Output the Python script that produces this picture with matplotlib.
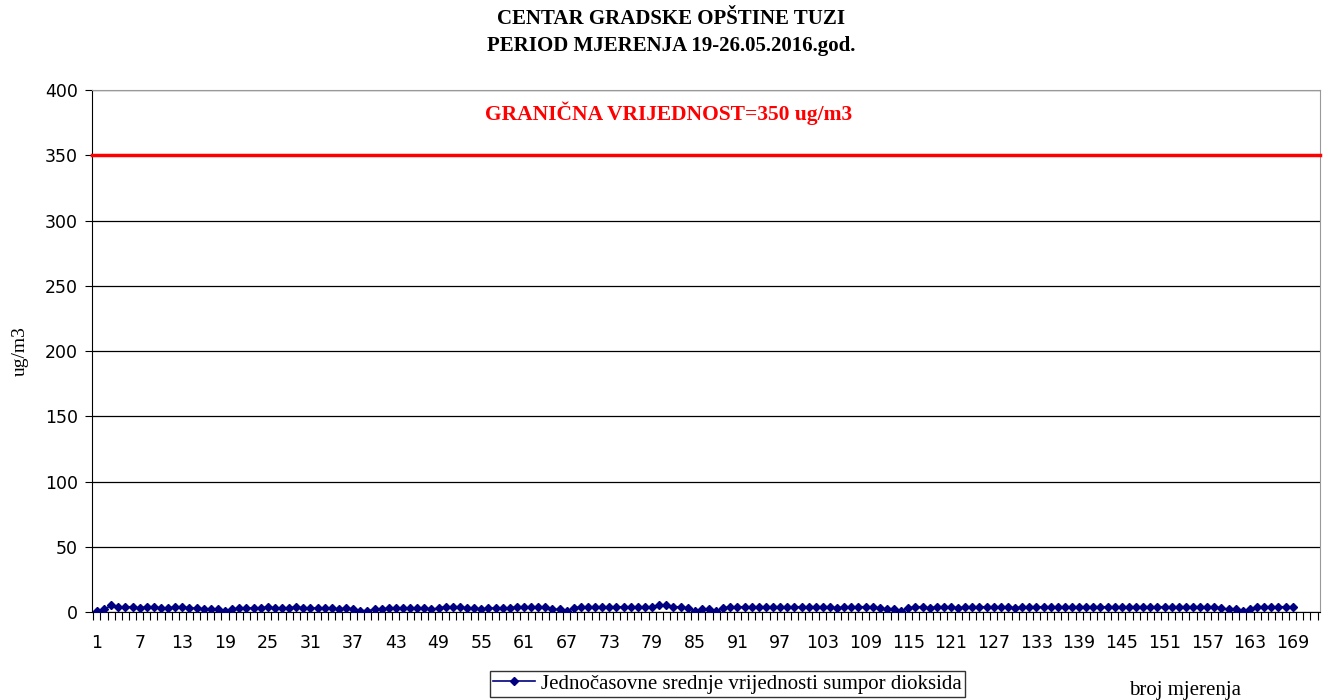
import matplotlib
matplotlib.use("Agg")
from matplotlib import pyplot as plt
import numpy as np

# hourly SO2 values, measurements 1..169
so2 = [1, 2, 5, 4, 4, 4, 3, 4, 4, 3, 3, 4, 4, 3, 3, 2, 2, 2, 1, 2,
       3, 3, 3, 3, 4, 3, 3, 3, 4, 3, 3, 3, 3, 3, 2, 3, 2, 1, 1, 2,
       2, 3, 3, 3, 3, 3, 3, 2, 3, 4, 4, 4, 3, 3, 2, 3, 3, 3, 3, 4,
       4, 4, 4, 4, 2, 2, 1, 3, 4, 4, 4, 4, 4, 4, 4, 4, 4, 4, 4, 5,
       5, 4, 4, 3, 1, 2, 2, 1, 3, 4, 4, 4, 4, 4, 4, 4, 4, 4, 4, 4,
       4, 4, 4, 4, 3, 4, 4, 4, 4, 4, 3, 2, 2, 1, 3, 4, 4, 3, 4, 4,
       4, 3, 4, 4, 4, 4, 4, 4, 4, 3, 4, 4, 4, 4, 4, 4, 4, 4, 4, 4,
       4, 4, 4, 4, 4, 4, 4, 4, 4, 4, 4, 4, 4, 4, 4, 4, 4, 4, 3, 2,
       2, 1, 2, 4, 4, 4, 4, 4, 4]
limit = 350
x = np.arange(1, len(so2) + 1)
xticks = list(range(1, 170, 6))
yticks = list(range(0, 401, 50))

fig = plt.figure(figsize=(13.23, 7), dpi=100)
ax = fig.add_axes([0.0695, 0.1257, 0.928, 0.7457])

ax.axhline(limit, color="red", lw=2.5, zorder=3, clip_on=False)
ax.plot(x, so2, color="#000080", marker="D", markersize=4.5, lw=1.2,
        label="Jednočasovne srednje vrijednosti sumpor dioksida", zorder=4)

ax.set_ylim(0, 400)
ax.set_xlim(0.3, 172.8)
ax.set_yticks(yticks)
ax.set_xticks(xticks)
ax.set_xticks(np.arange(0.5, 173, 1), minor=True)
ax.tick_params(axis="x", which="major", length=0, pad=16, labelsize=12.5)
ax.tick_params(axis="x", which="minor", length=6, width=0.8, direction="out")
ax.tick_params(axis="y", length=5, labelsize=12.5, pad=5)
ax.yaxis.grid(True, color="black", lw=0.9)
ax.set_axisbelow(True)
for s in ["top", "right"]:
    ax.spines[s].set_color("#999999")

ax.set_ylabel("ug/m3", family="Liberation Serif", fontsize=14, labelpad=12)
ax.text(0.47, 0.955, "GRANIČNA VRIJEDNOST=350 ug/m3", transform=ax.transAxes,
        color="red", ha="center", va="center", family="Liberation Serif",
        fontweight="bold", fontsize=15.5)

fig.text(0.507, 0.954, "CENTAR GRADSKE OPŠTINE TUZI\nPERIOD MJERENJA 19-26.05.2016.god.",
         ha="center", va="center", family="Liberation Serif", fontweight="bold",
         fontsize=15, linespacing=1.45)
fig.text(0.896, 0.013, "broj mjerenja", ha="center", va="center",
         family="Liberation Serif", fontsize=15)

leg = fig.legend(loc="center", bbox_to_anchor=(0.55, 0.023), frameon=True,
                 fancybox=False, edgecolor="black", borderpad=0.15,
                 handlelength=2.0, handletextpad=0.3,
                 prop={"family": "Liberation Serif", "size": 15})
leg.get_frame().set_linewidth(1.0)

fig.savefig("out.png", dpi=100)
